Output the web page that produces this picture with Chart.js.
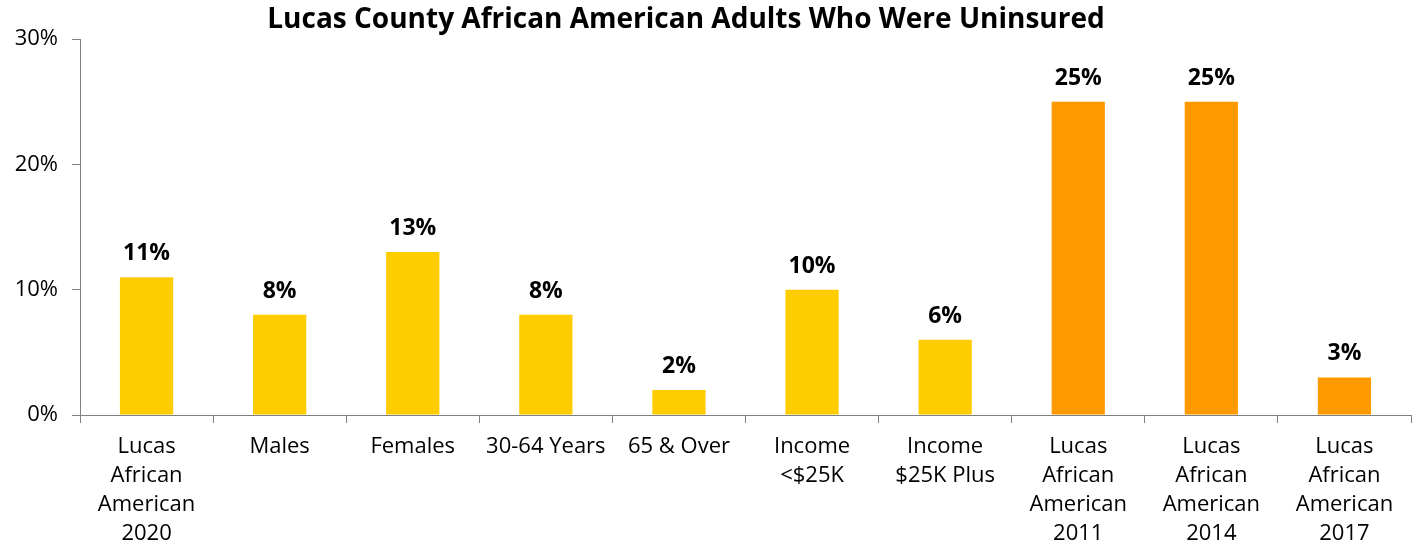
<!DOCTYPE html>
<html>
<head>
<meta charset="utf-8">
<script src="https://cdn.jsdelivr.net/npm/chart.js@4/dist/chart.umd.min.js"></script>
<style>
html,body{margin:0;padding:0;background:#fff;}
#wrap{width:1416px;height:546px;position:relative;}
</style>
</head>
<body>
<div id="wrap"><canvas id="c" width="1416" height="546"></canvas></div>
<script>
const titleText = "Lucas County African American Adults Who Were Uninsured";
const categories = [
  ["Lucas","African","American","2020"],
  ["Males"],
  ["Females"],
  ["30-64 Years"],
  ["65 & Over"],
  ["Income","<$25K"],
  ["Income","$25K Plus"],
  ["Lucas","African","American","2011"],
  ["Lucas","African","American","2014"],
  ["Lucas","African","American","2017"]
];
const values = [11, 8, 13, 8, 2, 10, 6, 25, 25, 3];
const barColors = ["#FFCC00","#FFCC00","#FFCC00","#FFCC00","#FFCC00","#FFCC00","#FFCC00","#FF9900","#FF9900","#FF9900"];
const yTicks = [0, 10, 20, 30];

const FONT = "'Open Sans', 'Noto Sans', sans-serif";

const labelPlugin = {
  id: 'valLabels',
  afterDatasetsDraw(chart) {
    const ctx = chart.ctx;
    const meta = chart.getDatasetMeta(0);
    ctx.save();
    ctx.font = "bold 23px " + FONT;
    ctx.fillStyle = "#000";
    ctx.textAlign = "center";
    ctx.textBaseline = "alphabetic";
    meta.data.forEach((bar, i) => {
      ctx.fillText(values[i] + "%", bar.x, bar.y - 17);
    });
    ctx.restore();
  }
};
const titlePlugin = {
  id: 'customTitle',
  afterDraw(chart) {
    const ctx = chart.ctx;
    ctx.save();
    ctx.font = "bold 28px " + FONT;
    ctx.fillStyle = "#000";
    ctx.textAlign = "center";
    ctx.textBaseline = "middle";
    ctx.fillText(titleText, 686, 20);
    ctx.restore();
  }
};

new Chart(document.getElementById('c'), {
  type: 'bar',
  data: {
    labels: categories,
    datasets: [{
      data: values,
      backgroundColor: barColors,
      borderWidth: 0,
      barPercentage: 0.4,
      categoryPercentage: 1.0
    }]
  },
  options: {
    responsive: false,
    animation: false,
    devicePixelRatio: 1,
    layout: { padding: { left: 0, right: 5, top: 39, bottom: 0 } },
    plugins: { legend: { display: false }, tooltip: { enabled: false }, title: { display: false } },
    scales: {
      x: {
        offset: true,
        grid: { display: true, offset: true, drawOnChartArea: false, drawTicks: true, tickLength: 8, color: "#808080", lineWidth: 1 },
        border: { display: true, color: "#808080", width: 1 },
        ticks: { color: "#000", font: { family: FONT, size: 22, lineHeight: 1.32 }, padding: 9, maxRotation: 0, autoSkip: false },
        afterFit(s) { s.height = 131; }
      },
      y: {
        min: 0, max: 30,
        afterBuildTicks(s) { s.ticks = yTicks.map(v => ({ value: v })); },
        grid: { display: true, drawOnChartArea: false, drawTicks: true, tickLength: 8, color: "#808080" },
        border: { display: true, color: "#808080", width: 1 },
        ticks: { color: "#000", font: { family: FONT, size: 22 }, padding: 14, callback: v => v + "%" },
        afterFit(s) { s.width = 80; }
      }
    }
  },
  plugins: [labelPlugin, titlePlugin]
});
</script>
</body>
</html>
